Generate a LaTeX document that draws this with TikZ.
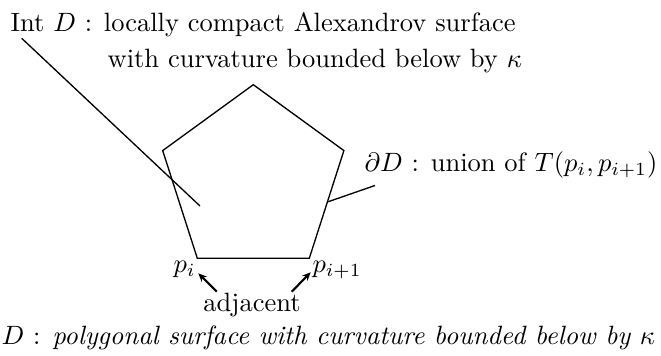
\documentclass[tikz,border=0pt]{standalone}
\usetikzlibrary{arrows.meta}
\begin{document}
\begin{tikzpicture}[x=0.3774pt,y=-0.3774pt,line width=0.5pt,
  lbl/.style={inner sep=0pt},
  ptr/.style={-{Stealth[length=3.2pt,width=2.8pt]},line width=0.8pt}]
\useasboundingbox (0,0) rectangle (661,356);
% pentagon
\coordinate (v1) at (253.3,84.7);
\coordinate (v2) at (162.7,150.6);
\coordinate (v3) at (197.3,258.3);
\coordinate (v4) at (309.3,258.3);
\coordinate (v5) at (343.9,150.6);
\draw (v1) -- (v2) -- (v3) -- (v4) -- (v5) -- cycle;
% interior label
\node[lbl,anchor=base west] (int1) at (10,31.5) {Int $D$ : locally compact Alexandrov surface};
\node[lbl,anchor=base west] (int2) at (107,67.5) {with curvature bounded below by $\kappa$};
\coordinate (intstart) at (21.7,38.3);
\coordinate (intend) at (200,206);
\draw (intstart) -- (intend);
% boundary label
\node[lbl,anchor=base west] (bd) at (364,172) {$\partial D$ : union of $T(p_i,p_{i+1})$};
\coordinate (bdstart) at (328.3,201.7);
\coordinate (bdend) at (375,185.5);
\draw (bdstart) -- (bdend);
% vertex labels
\node[lbl,anchor=base west] (pi) at (173,273) {$p_i$};
\node[lbl,anchor=base west] (pj) at (312,273) {$p_{i+1}$};
\node[lbl,anchor=base] (adj) at (252,311.7) {adjacent};
\coordinate (a1) at (216.7,291.7);
\coordinate (a2) at (291.7,291.7);
\coordinate (t1) at (198.3,273.3);
\coordinate (t2) at (310.7,272.3);
\draw[ptr] (a1) -- (t1);
\draw[ptr] (a2) -- (t2);
% caption
\node[lbl,anchor=base west] (cap) at (1,345) {$D$ : \textit{polygonal surface with curvature bounded below by} $\kappa$};
\end{tikzpicture}
\end{document}
